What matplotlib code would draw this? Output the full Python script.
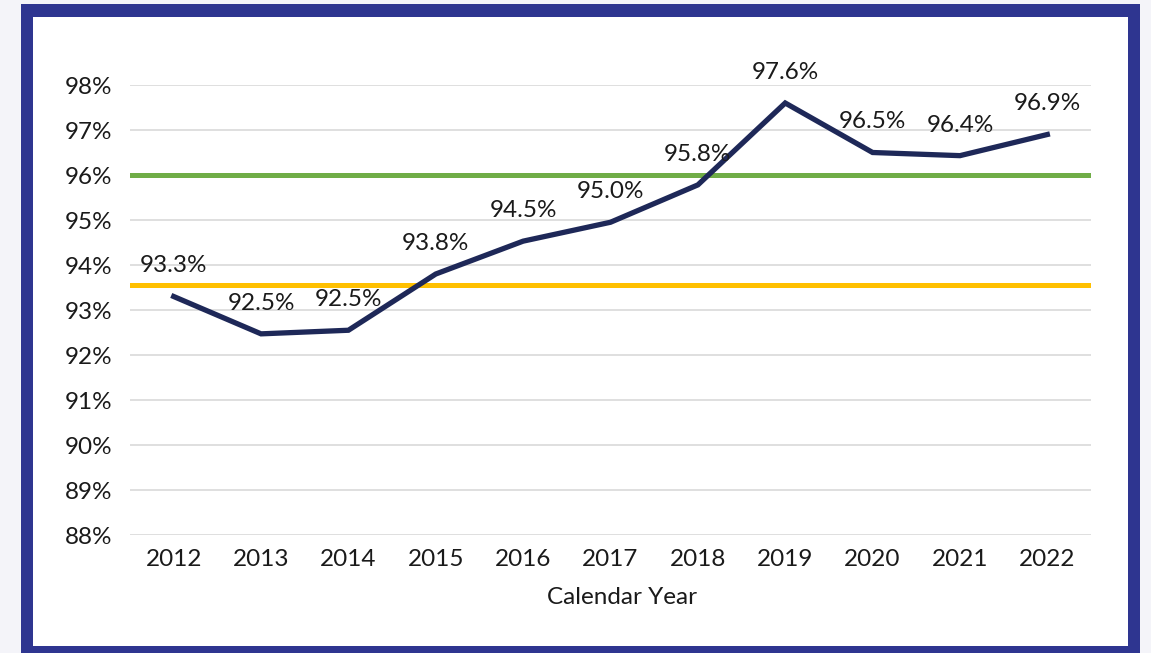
import matplotlib.pyplot as plt
from matplotlib.patches import Rectangle

# Данные графика
years = ['2012', '2013', '2014', '2015', '2016', '2017', '2018', '2019', '2020', '2021', '2022']
rate = [93.3, 92.47, 92.55, 93.8, 94.53, 94.95, 95.78, 97.6, 96.5, 96.43, 96.9]
labels = ['93.3%', '92.5%', '92.5%', '93.8%', '94.5%', '95.0%', '95.8%', '97.6%', '96.5%', '96.4%', '96.9%']
green_target = 96.0
yellow_target = 93.55
y_ticks = list(range(88, 99))

plt.rcParams['font.family'] = ['Lato', 'DejaVu Sans']

fig = plt.figure(figsize=(11.51, 6.53), dpi=100)
fig.patch.set_facecolor('#f4f4f9')

W, H = 1151, 653
# синяя рамка и белый фон внутри
fig.add_artist(Rectangle((21 / W, 0), (1140 - 21) / W, (653 - 4) / H,
                         transform=fig.transFigure, facecolor='#2e3590', edgecolor='none', zorder=0))
fig.add_artist(Rectangle((33 / W, (653 - 646) / H), (1128 - 33) / W, (646 - 17) / H,
                         transform=fig.transFigure, facecolor='white', edgecolor='none', zorder=0))

ax = fig.add_axes([130 / W, 1 - 535 / H, (1091 - 130) / W, (535 - 85) / H])
ax.set_facecolor('none')

x = list(range(len(years)))
ax.axhline(green_target, color='#70ad47', lw=3.6, zorder=2)
ax.axhline(yellow_target, color='#ffc000', lw=3.6, zorder=2)
ax.plot(x, rate, color='#1e2858', lw=3.8, zorder=3, solid_joinstyle='miter')

for xi, v, lab in zip(x, rate, labels):
    ax.annotate(lab, (xi, v), xytext=(0, 22), textcoords='offset points',
                ha='center', va='center', fontsize=17.5, color='#1a1a1a', zorder=4)

ax.set_xlim(-0.5, len(years) - 0.5)
ax.set_ylim(88, 98)
ax.set_yticks(y_ticks)
ax.set_yticklabels([f'{t}%' for t in y_ticks])
ax.set_xticks(x)
ax.set_xticklabels(years)
ax.grid(axis='y', color='#d9d9d9', lw=1.2, zorder=1)
ax.set_axisbelow(True)
for s in ax.spines.values():
    s.set_visible(False)
ax.tick_params(length=0, labelsize=17.5, labelcolor='#1a1a1a')
ax.tick_params(axis='y', pad=13)
ax.tick_params(axis='x', pad=10)
ax.set_xlabel('Calendar Year', fontsize=17.5, color='#1a1a1a')
ax.xaxis.label.set_va('center')
ax.xaxis.set_label_coords(0.512, -0.138)

plt.savefig('out.png', dpi=100, facecolor=fig.get_facecolor())
